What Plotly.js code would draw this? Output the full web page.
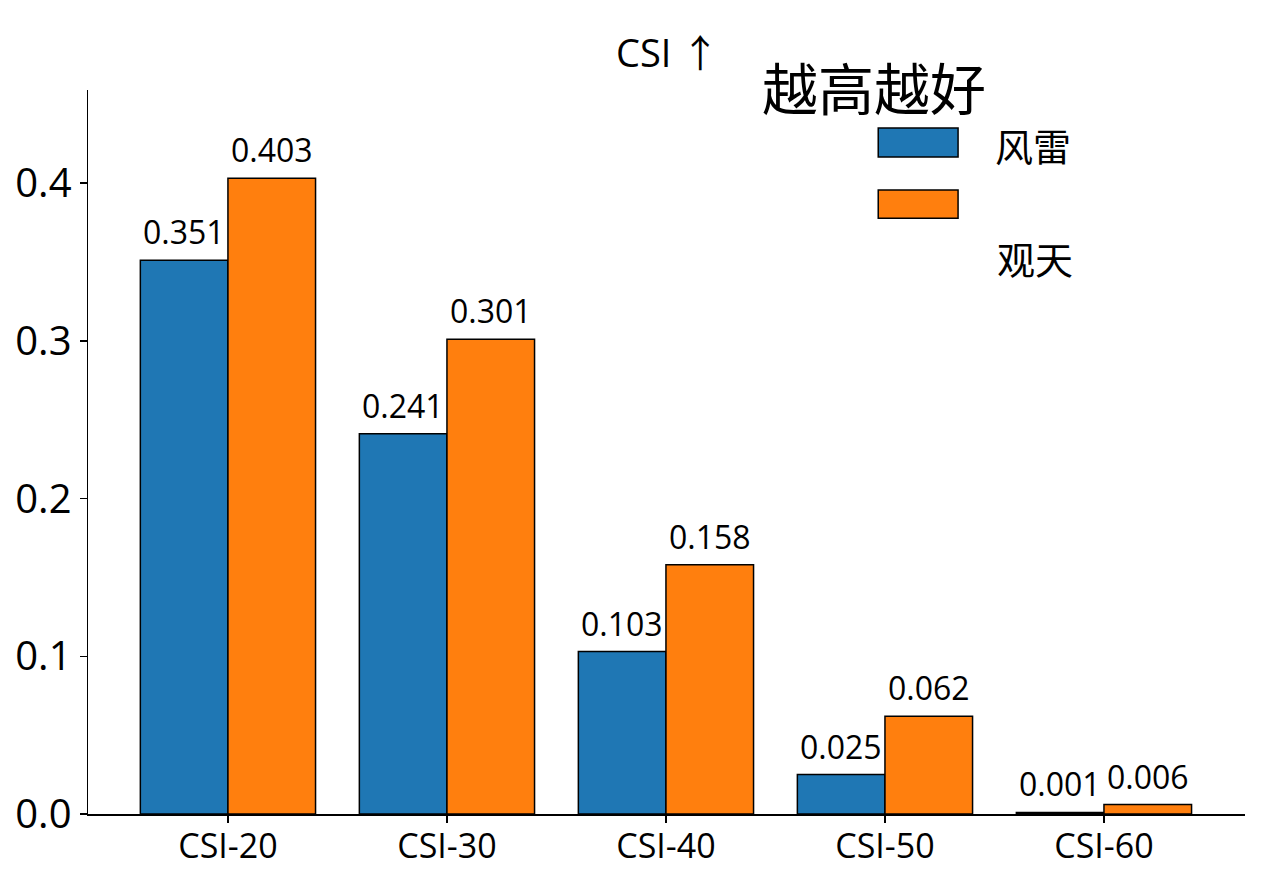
<!DOCTYPE html>
<html>
<head>
<meta charset="utf-8">
<script src="https://cdn.plot.ly/plotly-3.0.1.min.js"></script>
<style>
  html, body { margin: 0; padding: 0; background: #fff; }
  #chart { width: 1261px; height: 881px; }
</style>
</head>
<body>
<div id="chart"></div>
<script>
// 数据
const categories = ['CSI-20', 'CSI-30', 'CSI-40', 'CSI-50', 'CSI-60'];
const fenglei = [0.351, 0.241, 0.103, 0.025, 0.001];
const guantian = [0.403, 0.301, 0.158, 0.062, 0.006];
const seriesNames = ['风雷', '观天'];
const yTicks = [0.0, 0.1, 0.2, 0.3, 0.4];

const FONT = '"Open Sans", "Noto Sans CJK SC", sans-serif';
const CJK = '"Noto Sans CJK SC", sans-serif';
const colors = ['#1f77b4', '#ff7f0e'];
const offsets = [-0.2, 0.2];

function barTrace(vals, i) {
    return {
        type: 'bar',
        x: categories.map((c, k) => k + offsets[i]),
        y: vals,
        width: 0.4,
        name: seriesNames[i],
        marker: { color: colors[i], line: { color: '#000', width: 1.5 } },
        showlegend: false,
        hoverinfo: 'x+y'
    };
}

const traces = [barTrace(fenglei, 0), barTrace(guantian, 1)];

// 柱子上的数值
let annotations = [];
[fenglei, guantian].forEach((vals, i) => {
    vals.forEach((v, k) => {
        annotations.push({
            x: k + offsets[i], y: v, xref: 'x', yref: 'y',
            text: v.toFixed(3), showarrow: false,
            xanchor: 'center', yanchor: 'bottom', yshift: 5,
            font: { family: FONT, size: 32, color: '#000' }
        });
    });
});

// 手动画的图例
const legendBoxes = [[0.9475, 0.9075], [0.862, 0.823]];
const shapes = legendBoxes.map((b, i) => ({
    type: 'rect', xref: 'paper', yref: 'paper',
    x0: 0.683, x1: 0.752, y0: b[1], y1: b[0],
    fillcolor: colors[i], line: { color: '#000', width: 1.5 }
}));

annotations = annotations.concat([
    { text: 'CSI ↑', x: 0.501, y: 1.0, yanchor: 'middle', yshift: 38,
      font: { size: 38 } },
    { text: '越高越好', x: 0.581, y: 1.0, xanchor: 'left', yanchor: 'middle', yshift: 5,
      font: { size: 56, family: CJK } },
    { text: seriesNames[0], x: 0.782, y: 0.925, xanchor: 'left', yanchor: 'middle',
      font: { size: 38, family: CJK } },
    { text: seriesNames[1], x: 0.784, y: 0.768, xanchor: 'left', yanchor: 'middle',
      font: { size: 38, family: CJK } }
].map(a => Object.assign({ xref: 'paper', yref: 'paper', showarrow: false, xanchor: 'center' }, a,
    { font: Object.assign({ family: FONT, color: '#000' }, a.font) })));

const layout = {
    width: 1261, height: 881,
    margin: { l: 88, r: 16, t: 90, b: 67 },
    paper_bgcolor: '#fff', plot_bgcolor: '#fff',
    font: { family: FONT, color: '#000' },
    bargap: 0,
    xaxis: {
        range: [-0.639, 4.644],
        tickvals: categories.map((c, k) => k),
        ticktext: categories,
        tickfont: { size: 34 },
        ticks: 'outside', ticklen: 7, tickwidth: 1.5, tickcolor: '#000',
        ticklabelstandoff: -5,
        showline: true, linecolor: '#000', linewidth: 1.5,
        showgrid: false, zeroline: false, fixedrange: true
    },
    yaxis: {
        range: [0, 0.459],
        tickvals: yTicks,
        ticktext: yTicks.map(v => v.toFixed(1)),
        tickfont: { size: 40 },
        ticks: 'outside', ticklen: 7, tickwidth: 1.5, tickcolor: '#000',
        showline: true, linecolor: '#000', linewidth: 1.5,
        showgrid: false, zeroline: false, fixedrange: true
    },
    shapes: shapes,
    annotations: annotations
};

Plotly.newPlot('chart', traces, layout, { displayModeBar: false, staticPlot: true });
</script>
</body>
</html>
